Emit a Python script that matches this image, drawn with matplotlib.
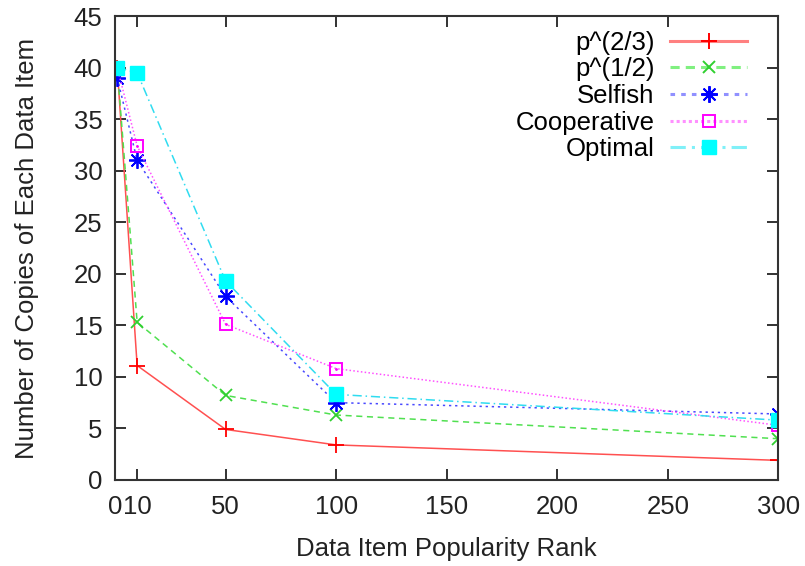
import matplotlib
matplotlib.use("Agg")
import matplotlib.pyplot as plt
from matplotlib.lines import Line2D

plt.rcParams['font.family'] = ['Liberation Sans', 'DejaVu Sans']

ranks = [1, 10, 50, 100, 300]
p23 = [40, 11.1, 4.9, 3.4, 1.9]
p12 = [40, 15.3, 8.2, 6.3, 4.0]
selfish = [39, 31.0, 17.8, 7.5, 6.4]
cooperative = [40, 32.4, 15.1, 10.8, 5.3]
optimal = [40, 39.5, 19.3, 8.3, 5.8]

xticks = [0, 10, 50, 100, 150, 200, 250, 300]
yticks = [0, 5, 10, 15, 20, 25, 30, 35, 40, 45]
labels = ['p^(2/3)', 'p^(1/2)', 'Selfish', 'Cooperative', 'Optimal']

fig = plt.figure(figsize=(8.05, 5.66), dpi=100)
ax = fig.add_axes([0.1429, 0.152, 0.8240, 0.8197])

lw = 1.1
ax.plot(ranks, p23, color='#ff5050', lw=lw, ls='-')
ax.plot(ranks, p23, ls='none', marker='+', ms=12, mew=1.3, color='red')
ax.plot(ranks, p12, color='#50e050', lw=lw, ls=(0, (4, 3)))
ax.plot(ranks, p12, ls='none', marker='x', ms=9, mew=1.3, color='#30d030')
ax.plot(ranks, selfish, color='#4848ff', lw=lw, ls=(0, (1.5, 2.5)))
ax.plot(ranks, selfish, ls='none', marker=(8, 2, 0), ms=12, mew=1.3, color='blue')
ax.plot(ranks, cooperative, color='#ff50ff', lw=lw, ls=(0, (1, 1.5)))
ax.plot(ranks, cooperative, ls='none', marker='s', ms=9, mew=1.4, mfc='none', color='magenta')
ax.plot(ranks, cooperative, ls='none', marker='.', ms=2, color='magenta')
ax.plot(ranks, optimal, color='#30dcf0', lw=lw, ls=(0, (6, 2.5, 1, 2.5)))
ax.plot(ranks, optimal, ls='none', marker='s', ms=10.5, color='cyan')

handles = [
    Line2D([], [], color='#ff8080', lw=2.2, ls='-', marker='+', ms=12, mew=1.4, mec='red'),
    Line2D([], [], color='#80f080', lw=2.2, ls=(0, (3, 2)), marker='x', ms=9, mew=1.4, mec='#30d030'),
    Line2D([], [], color='#9090ff', lw=2.2, ls=(0, (1.5, 2)), marker=(8, 2, 0), ms=12, mew=1.4, mec='blue'),
    Line2D([], [], color='#ff90ff', lw=2.2, ls=(0, (1, 1)), marker='s', ms=8, mew=1.4, mfc='none', mec='magenta'),
    Line2D([], [], color='#80f0f8', lw=2.2, ls=(0, (5, 2, 1, 2)), marker='s', ms=9.5, mfc='cyan', mec='cyan'),
]
ax.legend(handles, labels, loc='upper right', frameon=False, markerfirst=False,
          fontsize=18.5, handlelength=3.0, labelspacing=0.1, handletextpad=0.6,
          bbox_to_anchor=(0.953, 0.968), borderaxespad=0.0, borderpad=0.0)

ax.set_xlim(0, 300)
ax.set_ylim(0, 45)
ax.set_xticks(xticks)
ax.set_yticks(yticks)
ax.tick_params(direction='in', length=8, width=1.3, top=True, right=True,
               labelsize=18.5, colors='#222222', pad=11)
ax.tick_params(axis='y', pad=9)
for s in ax.spines.values():
    s.set_linewidth(1.5)
    s.set_color('#333333')
ax.set_xlabel('Data Item Popularity Rank', fontsize=18.5, color='#222222', labelpad=13)
ax.set_ylabel('Number of Copies of Each Data Item', fontsize=18.5, color='#222222', labelpad=25)

fig.savefig('out.png', dpi=100)
